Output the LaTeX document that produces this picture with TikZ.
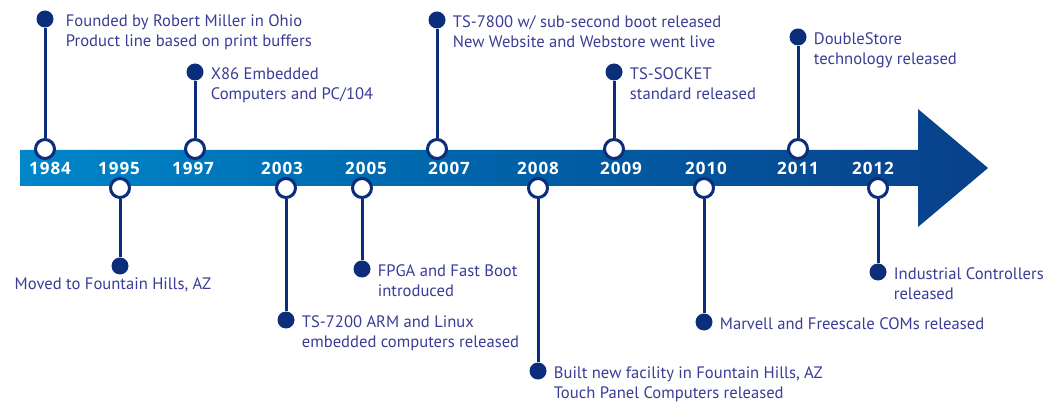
\documentclass[tikz,border=0pt]{standalone}
\usepackage{fontspec}
\setmainfont{PT Sans}
\newfontfamily\yearfont{Open Sans}[LetterSpace=6]
\usetikzlibrary{positioning}
\definecolor{navy}{RGB}{12,46,122}
\definecolor{evtext}{RGB}{58,60,150}
\definecolor{barleft}{RGB}{0,172,236}
\definecolor{barmid}{RGB}{0,100,170}
\definecolor{barright}{RGB}{14,44,120}
\pgfdeclarehorizontalshading{barshade}{100bp}{color(0bp)=(barleft); color(48bp)=(barmid); color(90bp)=(barright); color(100bp)=(barright)}

\begin{document}
\begin{tikzpicture}[x=1pt,y=-1pt,
    ring/.style={circle,draw=navy,fill=white,line width=3pt,minimum size=19pt,inner sep=0},
    dot/.style={circle,fill=navy,minimum size=17pt,inner sep=0},
    stem/.style={navy,line width=3pt},
    year/.style={text=white,font=\yearfont\bfseries\fontsize{17}{17}\selectfont},
    event/.style={text=evtext,font=\fontsize{16.6}{20}\selectfont,align=left,inner sep=0,anchor=north west,yshift=5pt}]

  \useasboundingbox (0,0) rectangle (1054,403);
  \shade[shading=barshade] (20,150) -- (918,150) -- (918,109) -- (988,168)
     -- (918,227) -- (918,186) -- (20,186) -- cycle;

  % years in the bar
  \node[year] (y84) at (50,168) {1984};
  \node[year] (y95) at (119,168) {1995};
  \node[year] (y97) at (193,168) {1997};
  \node[year] (y03) at (282,168) {2003};
  \node[year] (y05) at (366,168) {2005};
  \node[year] (y07) at (449,168) {2007};
  \node[year] (y08) at (538,168) {2008};
  \node[year] (y09) at (621,168) {2009};
  \node[year] (y10) at (706,168) {2010};
  \node[year] (y11) at (798,168) {2011};
  \node[year] (y12) at (873,168) {2012};

  % rings and dots
  \node[ring] (r84) at (45,149) {};   \node[dot] (d84) at (45,19) {};
  \node[ring] (r95) at (120,188) {};  \node[dot] (d95) at (120,266) {};
  \node[ring] (r97) at (195,149) {};  \node[dot] (d97) at (195,72) {};
  \node[ring] (r03) at (286,188) {};  \node[dot] (d03) at (286,320) {};
  \node[ring] (r05) at (362,188) {};  \node[dot] (d05) at (362,269) {};
  \node[ring] (r07) at (437,149) {};  \node[dot] (d07) at (437,20) {};
  \node[ring] (r08) at (538,188) {};  \node[dot] (d08) at (538,371) {};
  \node[ring] (r09) at (614,149) {};  \node[dot] (d09) at (614,72) {};
  \node[ring] (r10) at (704,188) {};  \node[dot] (d10) at (704,322) {};
  \node[ring] (r11) at (798,149) {};  \node[dot] (d11) at (798,37) {};
  \node[ring] (r12) at (878,188) {};  \node[dot] (d12) at (878,272) {};

  \draw[stem] (r84) -- (d84);
  \draw[stem] (r95) -- (d95);
  \draw[stem] (r97) -- (d97);
  \draw[stem] (r03) -- (d03);
  \draw[stem] (r05) -- (d05);
  \draw[stem] (r07) -- (d07);
  \draw[stem] (r08) -- (d08);
  \draw[stem] (r09) -- (d09);
  \draw[stem] (r10) -- (d10);
  \draw[stem] (r11) -- (d11);
  \draw[stem] (r12) -- (d12);

  % events
  \node[event, right=12pt of d84, anchor=north west] (e84) {Founded by Robert Miller in Ohio\\Product line based on print buffers};
  \node[text=evtext,font=\fontsize{16.6}{20}\selectfont,inner sep=0, below=3pt of d95, xshift=-7pt] (e95) {Moved to Fountain Hills, AZ};
  \node[event, right=7pt of d97, anchor=north west] (e97) {X86 Embedded\\Computers and PC/104};
  \node[event, right=7pt of d03, anchor=north west] (e03) {TS-7200 ARM and Linux\\embedded computers released};
  \node[event, right=7pt of d05, anchor=north west] (e05) {FPGA and Fast Boot\\introduced};
  \node[event, right=7pt of d07, anchor=north west] (e07) {TS-7800 w/ sub-second boot released\\New Website and Webstore went live};
  \node[event, right=7pt of d08, anchor=north west] (e08) {Built new facility in Fountain Hills, AZ\\Touch Panel Computers released};
  \node[event, right=7pt of d09, anchor=north west] (e09) {TS-SOCKET\\standard released};
  \node[event, right=7pt of d10, anchor=north west] (e10) {Marvell and Freescale COMs released};
  \node[event, right=7pt of d11, anchor=north west] (e11) {DoubleStore\\technology released};
  \node[event, right=7pt of d12, anchor=north west] (e12) {Industrial Controllers\\released};
\end{tikzpicture}
\end{document}
